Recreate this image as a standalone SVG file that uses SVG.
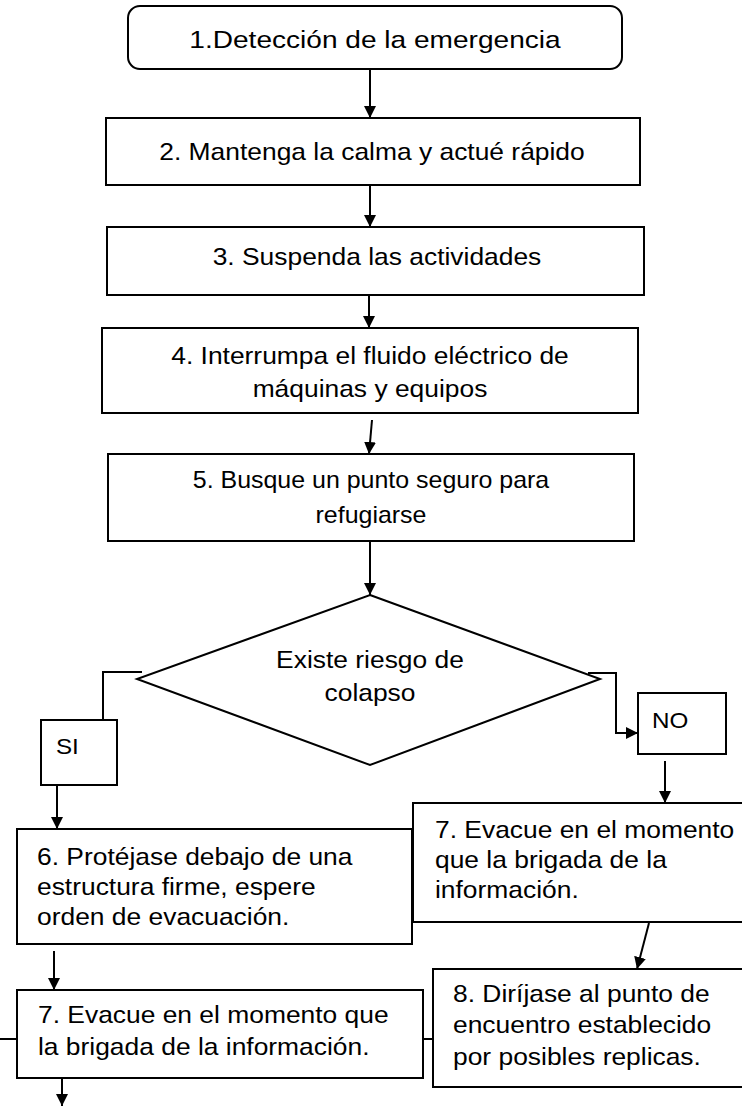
<svg xmlns="http://www.w3.org/2000/svg" width="742" height="1107" viewBox="0 0 742 1107">
<style>
.box{fill:#fff;stroke:#000;stroke-width:2}
.t{font-family:"Liberation Sans",Arial,sans-serif;font-size:24px;fill:#000}
.c{text-anchor:middle}
.s{font-size:22px}
.ln{fill:none;stroke:#000;stroke-width:2}
</style>
<defs>
<marker id="ah" markerWidth="12" markerHeight="12" viewBox="0 0 12 12" refX="12" refY="6" orient="auto" markerUnits="userSpaceOnUse">
<path d="M0,0 L12,6 L0,12 Z" fill="#000"/>
</marker>
</defs>
<rect width="742" height="1107" fill="#fff"/>
<g id="connectors">
<line class="ln" x1="370" y1="69" x2="370" y2="118" marker-end="url(#ah)"/>
<line class="ln" x1="370" y1="185" x2="370" y2="227" marker-end="url(#ah)"/>
<line class="ln" x1="369" y1="295" x2="369" y2="328" marker-end="url(#ah)"/>
<line class="ln" x1="372" y1="420" x2="369" y2="454" marker-end="url(#ah)"/>
<line class="ln" x1="370" y1="541" x2="370" y2="595" marker-end="url(#ah)"/>
<polyline class="ln" points="142,672 103,672 103,720"/>
<line class="ln" x1="57" y1="785" x2="57" y2="829" marker-end="url(#ah)"/>
<polyline class="ln" points="588,673 616,673 616,733 638,733" marker-end="url(#ah)"/>
<line class="ln" x1="665" y1="761" x2="665" y2="803" marker-end="url(#ah)"/>
<line class="ln" x1="54" y1="951" x2="54" y2="990" marker-end="url(#ah)"/>
<line class="ln" x1="0" y1="1039" x2="17" y2="1039"/>
<line class="ln" x1="423" y1="1039" x2="433" y2="1039"/>
<line class="ln" x1="649" y1="923" x2="637" y2="969" marker-end="url(#ah)"/>
<line class="ln" x1="62" y1="1065" x2="62" y2="1106" marker-end="url(#ah)"/>
</g>
<g id="n1"><rect class="box" x="128" y="6" width="494" height="63" rx="12"/><g transform="translate(375,0) scale(1.17,1) translate(-375,0)"><text class="t c" x="375" y="48">1.Detección de la emergencia</text></g></g>
<g id="n2"><rect class="box" x="106" y="118" width="534" height="67"/><g transform="translate(372,0) scale(1.1,1) translate(-372,0)"><text class="t c" x="372" y="160">2. Mantenga la calma y actué rápido</text></g></g>
<g id="n3"><rect class="box" x="107" y="227" width="537" height="68"/><g transform="translate(377,0) scale(1.1,1) translate(-377,0)"><text class="t c" x="377" y="265">3. Suspenda las actividades</text></g></g>
<g id="n4"><rect class="box" x="102" y="328" width="536" height="85"/><g transform="translate(370,0) scale(1.1,1) translate(-370,0)"><text class="t c" x="370" y="364">4. Interrumpa el fluido eléctrico de</text><text class="t c" x="370" y="397">máquinas y equipos</text></g></g>
<g id="n5"><rect class="box" x="108" y="454" width="526" height="87"/><g transform="translate(371,0) scale(1.04,1) translate(-371,0)"><text class="t c" x="371" y="488">5. Busque un punto seguro para</text><text class="t c" x="371" y="523">refugiarse</text></g></g>
<g id="d1"><polygon class="box" points="370,595 600,679 370,765 137,679"/><g transform="translate(370,0) scale(1.1,1) translate(-370,0)"><text class="t c" x="370" y="668">Existe riesgo de</text><text class="t c" x="370" y="701">colapso</text></g></g>
<g id="si"><rect class="box" x="41" y="720" width="76" height="65"/><g transform="translate(56,0) scale(1.1,1) translate(-56,0)"><text class="t s" x="56" y="754">SI</text></g></g>
<g id="no"><rect class="box" x="638" y="693" width="88" height="61"/><g transform="translate(652,0) scale(1.1,1) translate(-652,0)"><text class="t s" x="652" y="728">NO</text></g></g>
<g id="n6"><rect class="box" x="17" y="829" width="395" height="115"/><g transform="translate(37,0) scale(1.1,1) translate(-37,0)"><text class="t" x="37" y="865">6. Protéjase debajo de una</text><text class="t" x="37" y="895">estructura firme, espere</text><text class="t" x="37" y="925">orden de evacuación.</text></g></g>
<g id="n7r"><rect class="box" x="413" y="803" width="335" height="119"/><g transform="translate(435,0) scale(1.1,1) translate(-435,0)"><text class="t" x="435" y="838">7. Evacue en el momento</text><text class="t" x="435" y="868">que la brigada de la</text><text class="t" x="435" y="898">información.</text></g></g>
<g id="n7l"><rect class="box" x="17" y="990" width="406" height="88"/><g transform="translate(38,0) scale(1.1,1) translate(-38,0)"><text class="t" x="38" y="1023">7. Evacue en el momento que</text><text class="t" x="38" y="1055">la brigada de la información.</text></g></g>
<g id="n8"><rect class="box" x="433" y="969" width="315" height="118"/><g transform="translate(453,0) scale(1.1,1) translate(-453,0)"><text class="t" x="453" y="1002">8. Diríjase al punto de</text><text class="t" x="453" y="1033">encuentro establecido</text><text class="t" x="453" y="1065">por posibles replicas.</text></g></g>
</svg>
